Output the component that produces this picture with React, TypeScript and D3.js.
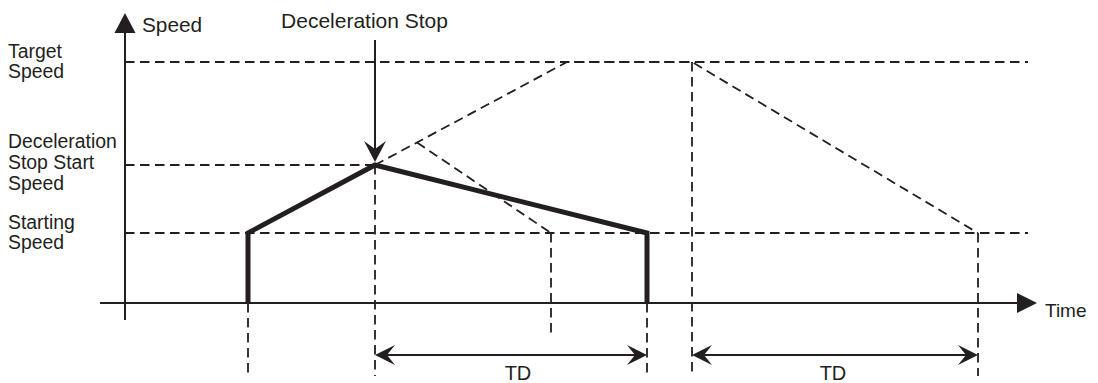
import React from "react";
import * as d3 from "d3";

// speed levels (arbitrary units)
const speedLevels = [
  { key: "start", value: 7.0, label: ["Starting", "Speed"] },
  { key: "stopStart", value: 13.8, label: ["Deceleration", "Stop Start", "Speed"] },
  { key: "target", value: 24.1, label: ["Target", "Speed"] },
];
// actual (thick) speed profile: [time, speed]
const actualProfile: [number, number][] = [
  [12.3, 0],
  [12.3, 7.0],
  [25.0, 13.8],
  [52.2, 7.0],
  [52.2, 0],
];
// planned (dashed) profile without deceleration stop
const plannedProfile: [number, number][] = [
  [25.0, 13.8],
  [44.2, 24.1],
  [56.7, 24.1],
  [85.3, 7.0],
];
// reference deceleration at nominal rate
const altDecel: [number, number][] = [
  [29.2, 16.05],
  [42.6, 7.0],
];
// vertical dashed markers: [time, fromSpeed, toSpeed]
const markers: [number, number, number][] = [
  [12.3, 0, -7.3],
  [25.0, 13.8, -7.3],
  [42.6, 7.0, -3.0],
  [52.2, 0, -7.3],
  [56.7, 24.1, -7.3],
  [85.3, 7.0, -7.3],
];
// TD spans
const tdSpans: [number, number][] = [
  [25.0, 52.2],
  [56.7, 85.3],
];
const stopTime = 25.0;
const levelLineEnd = 90.3;

export default function App() {
  const W = 1098, H = 383;
  const x = d3.scaleLinear().domain([0, 100]).range([125, 1125]);
  const y = d3.scaleLinear().domain([0, 10]).range([303, 203]);
  const line = d3.line<[number, number]>().x((d) => x(d[0])).y((d) => y(d[1]));
  const ink = "#231f20";
  const dash = "9.5,5.5";
  const dw = 1.8;
  const font = "'Liberation Sans', Arial, Helvetica, sans-serif";
  const fs = 19.4;

  const xAxisStart = x(-2.5), xAxisTip = x(91.2);
  const yAxisBottom = y(-1.7), yAxisTip = y(29.0);
  const tdY = y(-5.2);

  const sweptHead = (tx: number, ty: number, dir: "left" | "right" | "down") => {
    const L = 20, Wd = 10, N = 12;
    if (dir === "left")
      return `M${tx},${ty}L${tx + L},${ty - Wd}L${tx + N},${ty}L${tx + L},${ty + Wd}Z`;
    if (dir === "right")
      return `M${tx},${ty}L${tx - L},${ty - Wd}L${tx - N},${ty}L${tx - L},${ty + Wd}Z`;
    return `M${tx},${ty}L${tx - 11},${ty - 21}L${tx},${ty - 13}L${tx + 11},${ty - 21}Z`;
  };

  const labelFirstOffset: Record<string, number> = { start: -4, stopStart: -17, target: -4 };
  const labelStep: Record<string, number> = { start: 20, stopStart: 21, target: 20 };

  return (
    <svg
      width={W}
      height={H}
      style={{ position: "absolute", left: 0, top: 0, background: "#fff" }}
      fontFamily={font}
    >
      {/* horizontal dashed level lines */}
      {speedLevels.map((s) => (
        <line
          key={s.key}
          x1={x(0)}
          x2={s.key === "stopStart" ? x(stopTime) : x(levelLineEnd)}
          y1={y(s.value)}
          y2={y(s.value)}
          stroke={ink}
          strokeWidth={dw}
          strokeDasharray={dash}
        />
      ))}
      {/* level labels */}
      {speedLevels.map((s) => (
        <text key={s.key + "l"} x={8} fontSize={fs} fill={ink}>
          {s.label.map((t, i) => (
            <tspan key={i} x={8} y={y(s.value) + labelFirstOffset[s.key] + i * labelStep[s.key]}>
              {t}
            </tspan>
          ))}
        </text>
      ))}
      {/* planned dashed profile */}
      <path d={line(plannedProfile) || ""} fill="none" stroke={ink} strokeWidth={dw} strokeDasharray={dash} />
      <path d={line(altDecel) || ""} fill="none" stroke={ink} strokeWidth={dw} strokeDasharray={dash} />
      {/* vertical markers */}
      {markers.map((m, i) => (
        <line
          key={"m" + i}
          x1={x(m[0])}
          x2={x(m[0])}
          y1={y(m[1])}
          y2={y(m[2])}
          stroke={ink}
          strokeWidth={dw}
          strokeDasharray={dash}
        />
      ))}
      {/* axes */}
      <line x1={xAxisStart} x2={xAxisTip - 15} y1={y(0)} y2={y(0)} stroke={ink} strokeWidth={2} />
      <path d={`M${xAxisTip},${y(0)}L${xAxisTip - 20},${y(0) - 10}L${xAxisTip - 20},${y(0) + 10}Z`} fill={ink} />
      <line x1={x(0)} x2={x(0)} y1={yAxisBottom} y2={yAxisTip + 15} stroke={ink} strokeWidth={2} />
      <path d={`M${x(0)},${yAxisTip}L${x(0) - 10.5},${yAxisTip + 20}L${x(0) + 10.5},${yAxisTip + 20}Z`} fill={ink} />
      <text x={x(0) + 17} y={32} fontSize={20.8} fill={ink}>Speed</text>
      <text x={xAxisTip + 8} y={y(0) + 14} fontSize={19} fill={ink}>Time</text>
      {/* actual thick profile */}
      <path d={line(actualProfile) || ""} fill="none" stroke={ink} strokeWidth={5} strokeLinejoin="miter" />
      {/* deceleration stop pointer */}
      <line x1={x(stopTime)} x2={x(stopTime)} y1={40} y2={y(13.8) - 12} stroke={ink} strokeWidth={2} />
      <path d={sweptHead(x(stopTime), y(13.8) - 3, "down")} fill={ink} />
      <text x={x(stopTime) - 10.5} y={28} fontSize={21} fill={ink} textAnchor="middle">Deceleration Stop</text>
      {/* TD spans */}
      {tdSpans.map((s, i) => (
        <g key={"td" + i}>
          <line x1={x(s[0]) + 10} x2={x(s[1]) - 10} y1={tdY} y2={tdY} stroke={ink} strokeWidth={2} />
          <path d={sweptHead(x(s[0]), tdY, "left")} fill={ink} />
          <path d={sweptHead(x(s[1]), tdY, "right")} fill={ink} />
          <text x={(x(s[0]) + x(s[1])) / 2 + (i === 0 ? 7 : -2)} y={380} fontSize={20} fill={ink} textAnchor="middle">TD</text>
        </g>
      ))}
    </svg>
  );
}
